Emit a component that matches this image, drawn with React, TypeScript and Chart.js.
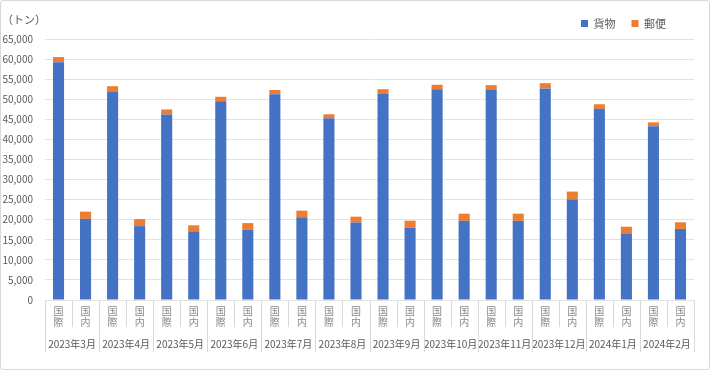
import React, { useEffect, useRef } from "react";
import { Chart, registerables } from "chart.js";

Chart.register(...registerables);

const months = [
  "2023年3月", "2023年4月", "2023年5月", "2023年6月", "2023年7月", "2023年8月",
  "2023年9月", "2023年10月", "2023年11月", "2023年12月", "2024年1月", "2024年2月",
];
const subCats = [["国", "際"], ["国", "内"]];
const cargo = [
  59200, 20200, 51900, 18400, 46200, 17100, 49500, 17500, 51250, 20600, 45250, 19300,
  51400, 18000, 52500, 19700, 52300, 19700, 52700, 25000, 47600, 16600, 43300, 17700,
];
const mail = [
  1300, 1800, 1350, 1750, 1250, 1500, 1100, 1650, 1050, 1650, 1000, 1450,
  1100, 1750, 1100, 1800, 1200, 1800, 1300, 2000, 1150, 1650, 950, 1650,
];
const seriesNames = ["貨物", "郵便"];
const unitLabel = "（トン）";

const FONT = "'Noto Sans CJK JP', 'Noto Sans', sans-serif";
const TEXT = "#595959";
const GRID = "#e3e3e3";

export default function App() {
  const ref = useRef<HTMLCanvasElement | null>(null);

  useEffect(() => {
    if (!ref.current) return;
    const labels: string[][] = [];
    months.forEach(() => subCats.forEach((s) => labels.push(s)));

    const decor = {
      id: "decor",
      afterLayout(chart: any) {
        const lg = chart.legend;
        if (lg) {
          lg.left -= 12;
          lg.right -= 12;
        }
      },
      afterDraw(chart: any) {
        const ctx = chart.ctx;
        const xs = chart.scales.x;
        const x2 = chart.scales.x2;
        const n = labels.length;
        const step = (xs.right - xs.left) / n;
        ctx.save();
        ctx.strokeStyle = "#d9d9d9";
        ctx.lineWidth = 1;
        for (let i = 0; i <= n; i++) {
          const px = Math.round(xs.left + i * step) + 0.5;
          const bottom = i % 2 === 0 ? x2.bottom : xs.bottom;
          ctx.beginPath();
          ctx.moveTo(px, xs.top);
          ctx.lineTo(px, bottom);
          ctx.stroke();
        }
        ctx.fillStyle = TEXT;
        ctx.font = `11px ${FONT}`;
        ctx.textBaseline = "middle";
        ctx.textAlign = "left";
        ctx.fillText(unitLabel, 2, 20);
        ctx.restore();
      },
    };

    const chart = new Chart(ref.current, {
      type: "bar",
      data: {
        labels,
        datasets: [
          {
            label: seriesNames[0],
            data: cargo,
            backgroundColor: "#4472C4",
            categoryPercentage: 1,
            barPercentage: 0.41,
          },
          {
            label: seriesNames[1],
            data: mail,
            backgroundColor: "#ED7D31",
            categoryPercentage: 1,
            barPercentage: 0.41,
          },
        ],
      },
      options: {
        responsive: false,
        animation: false,
        layout: { padding: { left: 0, right: 16, top: 2, bottom: 18 } },
        plugins: {
          legend: {
            position: "top",
            align: "end",
            labels: {
              boxWidth: 7,
              boxHeight: 7,
              padding: 16,
              color: TEXT,
              font: { size: 11, family: FONT },
            },
          },
          tooltip: { enabled: false },
        },
        scales: {
          x: {
            stacked: true,
            grid: { display: false },
            border: { display: false },
            ticks: {
              autoSkip: false,
              maxRotation: 0,
              minRotation: 0,
              padding: -2,
              color: "#8a8a8a",
              font: { size: 10, family: FONT, lineHeight: 1.1 },
            },
            afterFit: (s: any) => {
              s.height = 27;
            },
          },
          x2: {
            type: "category",
            position: "bottom",
            labels: months,
            offset: true,
            grid: { display: false },
            border: { display: false },
            ticks: {
              autoSkip: false,
              maxRotation: 0,
              minRotation: 0,
              padding: 3,
              color: TEXT,
              font: { size: 10, family: FONT },
            },
            afterFit: (s: any) => {
              s.height = 25;
            },
          },
          y: {
            stacked: true,
            min: 0,
            max: 65000,
            border: { display: false },
            grid: { color: GRID, drawTicks: false },
            ticks: {
              stepSize: 5000,
              padding: 12,
              color: TEXT,
              font: { size: 10, family: FONT },
              callback: (v: any) => Number(v).toLocaleString("en-US"),
            },
            afterFit: (s: any) => {
              s.width = 45;
            },
          },
        },
      },
      plugins: [decor],
    });
    return () => chart.destroy();
  }, []);

  return (
    <div style={{ position: "fixed", left: 0, top: 0, width: 710, height: 370, background: "#fff" }}>
      <canvas ref={ref} width={710} height={370} style={{ position: "absolute", left: 0, top: 0 }} />
      <div
        style={{
          position: "absolute",
          left: 0,
          top: 0,
          width: 710,
          height: 370,
          boxSizing: "border-box",
          border: "1px solid #d9d9d9",
          borderRadius: 3,
          pointerEvents: "none",
        }}
      />
    </div>
  );
}
